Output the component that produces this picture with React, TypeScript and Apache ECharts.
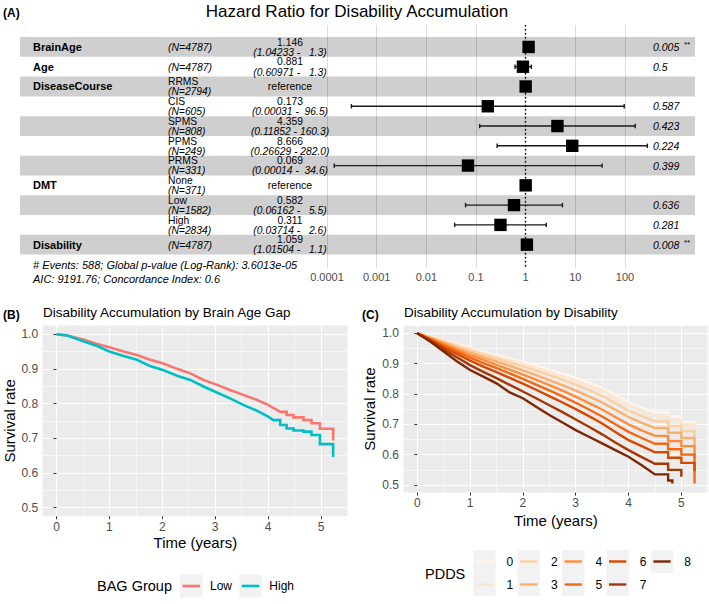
import { useEffect, useRef } from "react";
import * as echarts from "echarts";

const FONT = "'Liberation Sans', Arial, Helvetica, sans-serif";

// ---------- Panel A: forest plot data ----------
const forestVars = ["BrainAge", "Age", "DiseaseCourse", "", "", "", "", "DMT", "", "", "Disability"];
const forestLevels = ["", "", "RRMS", "CIS", "SPMS", "PPMS", "PRMS", "None", "Low", "High", ""];
const forestN = [4787, 4787, 2794, 605, 808, 249, 331, 371, 1582, 2834, 4787];
const forestHR: (number | null)[] = [1.146, 0.881, null, 0.173, 4.359, 8.666, 0.069, null, 0.582, 0.311, 1.059];
const forestLo: (number | null)[] = [1.04233, 0.60971, null, 0.00031, 0.11852, 0.26629, 0.00014, null, 0.06162, 0.03714, 1.01504];
const forestHi: (number | null)[] = [1.3, 1.3, null, 96.5, 160.3, 282.0, 34.6, null, 5.5, 2.6, 1.1];
const forestP = ["0.005", "0.5", "", "0.587", "0.423", "0.224", "0.399", "", "0.636", "0.281", "0.008"];
const forestStars = ["**", "", "", "", "", "", "", "", "", "", "**"];
const forestTicks = [0.0001, 0.001, 0.01, 0.1, 1, 10, 100];
const forestTickLabels = ["0.0001", "0.001", "0.01", "0.1", "1", "10", "100"];
const footnote1 = "# Events: 588; Global p-value (Log-Rank): 3.6013e-05";
const footnote2 = "AIC: 9191.76; Concordance Index: 0.6";

// ---------- Panel B: survival by brain age gap ----------
const bagGroups = ["Low", "High"];
const bagColors = ["#F8766D", "#00BFC4"];
const lowTimes = [0, 0.2, 0.52, 0.77, 1.0, 1.27, 1.52, 1.77, 2.01, 2.28, 2.53, 2.78, 3.0, 3.28, 3.53, 3.79, 4.0, 4.23, 4.35, 4.48, 4.67, 4.82, 4.98, 5.23];
const lowSurv = [1, 0.996, 0.984, 0.972, 0.962, 0.95, 0.94, 0.926, 0.916, 0.9, 0.887, 0.868, 0.856, 0.839, 0.825, 0.81, 0.796, 0.776, 0.767, 0.76, 0.752, 0.743, 0.727, 0.693];
const highTimes = [0, 0.2, 0.52, 0.77, 1.0, 1.27, 1.52, 1.77, 2.01, 2.28, 2.53, 2.78, 3.0, 3.28, 3.53, 3.79, 4.0, 4.1, 4.23, 4.35, 4.48, 4.67, 4.82, 4.98, 5.23];
const highSurv = [1, 0.996, 0.979, 0.966, 0.95, 0.937, 0.926, 0.908, 0.897, 0.88, 0.868, 0.849, 0.834, 0.815, 0.796, 0.779, 0.762, 0.752, 0.738, 0.728, 0.722, 0.719, 0.709, 0.683, 0.646];
const bagStepFrom = [4.2, 4.05];

// ---------- Panel C: survival by disability (PDDS) ----------
const pddsLevels = ["0", "1", "2", "3", "4", "5", "6", "7", "8"];
const pddsColors = ["#fff5eb", "#fee6ce", "#fdd0a2", "#fdae6b", "#fd8d3c", "#f16913", "#d94801", "#a63603", "#7f2704"];
const pddsTimes = [0, 0.25, 0.5, 0.75, 1, 1.25, 1.5, 1.75, 2, 2.25, 2.5, 2.75, 3, 3.25, 3.5, 3.75, 4, 4.25, 4.5, 4.75, 5];
const pdds0 = [1, 0.99, 0.978, 0.965, 0.952, 0.94, 0.928, 0.917, 0.906, 0.894, 0.881, 0.867, 0.853, 0.837, 0.82, 0.797, 0.773, 0.755, 0.74, 0.725, 0.708];
const pdds1 = [1, 0.989, 0.976, 0.962, 0.949, 0.936, 0.924, 0.912, 0.9, 0.887, 0.873, 0.859, 0.844, 0.828, 0.81, 0.787, 0.762, 0.745, 0.728, 0.712, 0.697];
const pdds2 = [1, 0.987, 0.973, 0.958, 0.944, 0.93, 0.917, 0.904, 0.891, 0.877, 0.862, 0.847, 0.831, 0.813, 0.794, 0.77, 0.745, 0.727, 0.71, 0.695, 0.678];
const pdds3 = [1, 0.985, 0.969, 0.952, 0.936, 0.921, 0.907, 0.893, 0.878, 0.862, 0.846, 0.829, 0.811, 0.792, 0.772, 0.748, 0.724, 0.705, 0.688, 0.672, 0.655];
const pdds4 = [1, 0.983, 0.964, 0.946, 0.928, 0.912, 0.896, 0.88, 0.864, 0.847, 0.829, 0.811, 0.791, 0.77, 0.749, 0.724, 0.7, 0.68, 0.662, 0.645, 0.628];
const pdds5 = [1, 0.981, 0.96, 0.94, 0.92, 0.902, 0.885, 0.868, 0.85, 0.831, 0.812, 0.792, 0.771, 0.749, 0.726, 0.7, 0.675, 0.655, 0.636, 0.618, 0.6];
const pdds6 = [1, 0.978, 0.954, 0.932, 0.91, 0.89, 0.872, 0.853, 0.834, 0.814, 0.793, 0.772, 0.75, 0.727, 0.703, 0.675, 0.648, 0.628, 0.608, 0.59, 0.573];
const pdds7 = [1, 0.975, 0.947, 0.921, 0.895, 0.873, 0.852, 0.83, 0.808, 0.786, 0.763, 0.74, 0.716, 0.692, 0.667, 0.64, 0.615, 0.592, 0.57, 0.55];
const pdds8 = [1, 0.972, 0.94, 0.908, 0.879, 0.857, 0.835, 0.805, 0.786, 0.758, 0.731, 0.706, 0.681, 0.659, 0.637, 0.615, 0.593, 0.565, 0.535, 0.515];
const pddsSurv = [pdds0, pdds1, pdds2, pdds3, pdds4, pdds5, pdds6, pdds7, pdds8];
const pddsEnd: [number, number][] = [[5.25, 0.69], [5.25, 0.678], [5.25, 0.66], [5.25, 0.62], [5.25, 0.59], [5.25, 0.505], [5.25, 0.545], [5.0, 0.527], [4.83, 0.505]];
const pddsStepFrom = 4.5;

const timeTicks = [0, 1, 2, 3, 4, 5];
const timeMinor = [0.5, 1.5, 2.5, 3.5, 4.5, 5.5];
const survTicks = [0.5, 0.6, 0.7, 0.8, 0.9, 1.0];
const survMinor = [0.55, 0.65, 0.75, 0.85, 0.95];

// ---------- layout constants ----------
const COL1 = 33, COL2 = 168, COL3 = 290, COLP = 653, COLS = 684;
const BAND_L = 20, BAND_R = 695;
const STACK_FONT = 10.3, STACK_UP = 4.8, STACK_DOWN = 5.3;

// Kaplan-Meier path: dense early part drawn as a polyline, sparse tail as explicit steps
function kmPath(times: number[], surv: number[], stepFrom: number) {
  const out: number[][] = [];
  for (let j = 0; j < times.length; j++) {
    if (j > 0 && times[j - 1] >= stepFrom) out.push([times[j], surv[j - 1]]);
    out.push([times[j], surv[j]]);
  }
  return out;
}

function txt(text: string, x: number, y: number, font: string, align = "left", fill = "#000") {
  return {
    type: "text",
    style: { text, x, y, font, fill, align, verticalAlign: "middle", textAlign: align, textVerticalAlign: "middle" },
  };
}

function gtext(text: string, x: number, y: number, font: string, align = "left", fill = "#000") {
  return {
    type: "text",
    x, y,
    style: { text, font, fill, align, verticalAlign: "middle", textAlign: align, textVerticalAlign: "middle" },
  };
}

function timeAxes(gridIndex: number, nameGap: number) {
  return [
    {
      type: "value", gridIndex, min: -0.2625, max: 5.5125, position: "bottom",
      axisLine: { show: false },
      axisTick: { show: true, length: 3, customValues: timeTicks, lineStyle: { color: "#333", width: 1 } },
      axisLabel: { customValues: timeTicks, color: "#4d4d4d", fontSize: 12, margin: 4.5, fontFamily: FONT },
      splitLine: { show: true, lineStyle: { color: "#ffffff", width: 1.1 } },
      name: "Time (years)", nameLocation: "middle", nameGap,
      nameTextStyle: { fontSize: 15, color: "#000", fontFamily: FONT },
    },
    {
      type: "value", gridIndex, min: -0.2625, max: 5.5125, position: "bottom",
      axisLine: { show: false },
      axisTick: { show: false, customValues: timeMinor },
      axisLabel: { show: false, customValues: timeMinor },
      splitLine: { show: true, lineStyle: { color: "#ffffff", width: 0.55 } },
    },
  ];
}

function survAxes(gridIndex: number) {
  return [
    {
      type: "value", gridIndex, min: 0.475, max: 1.025, position: "left",
      axisLine: { show: false },
      axisTick: { show: true, length: 3, customValues: survTicks, lineStyle: { color: "#333", width: 1 } },
      axisLabel: { customValues: survTicks, formatter: (v: number) => v.toFixed(1), color: "#4d4d4d", fontSize: 12, margin: 4.5, fontFamily: FONT },
      splitLine: { show: true, lineStyle: { color: "#ffffff", width: 1.1 } },
      name: "Survival rate", nameLocation: "middle", nameGap: 26,
      nameTextStyle: { fontSize: 15, color: "#000", fontFamily: FONT },
    },
    {
      type: "value", gridIndex, min: 0.475, max: 1.025, position: "left",
      axisLine: { show: false },
      axisTick: { show: false, customValues: survMinor },
      axisLabel: { show: false, customValues: survMinor },
      splitLine: { show: true, lineStyle: { color: "#ffffff", width: 0.55 } },
    },
  ];
}

function buildOption() {
  const rowIdx = forestVars.map((_, i) => i + 1);

  const bandsSeries = {
    type: "custom", name: "bands", xAxisIndex: 0, yAxisIndex: 0, z: 1, silent: true,
    data: rowIdx.filter((r) => r % 2 === 1).map((r) => [1, r]),
    encode: { x: 0, y: 1 },
    renderItem: (_p: any, api: any) => {
      const r = api.value(1);
      const top = api.coord([1, r - 0.5])[1];
      const bot = api.coord([1, r + 0.5])[1];
      return { type: "rect", shape: { x: BAND_L, y: top, width: BAND_R - BAND_L, height: bot - top }, style: { fill: "rgba(0,0,0,0.19)" } };
    },
    markLine: {
      silent: true, symbol: "none", label: { show: false },
      lineStyle: { color: "#000", width: 1.4, type: [1.4, 2.6] },
      data: [{ xAxis: 1 }],
    },
  };

  const marksSeries = {
    type: "custom", name: "hazard", xAxisIndex: 0, yAxisIndex: 0, z: 10, silent: true,
    data: rowIdx.map((r, i) => [forestHR[i] ?? 1, r]),
    encode: { x: 0, y: 1 },
    renderItem: (p: any, api: any) => {
      const i = p.dataIndex;
      const row = i + 1;
      const c = api.coord([forestHR[i] ?? 1, row]);
      const children: any[] = [];
      const lo = forestLo[i], hi = forestHi[i];
      if (lo != null && hi != null) {
        const a = api.coord([lo, row]);
        const b = api.coord([hi, row]);
        const st = { stroke: "#1a1a1a", lineWidth: 1.4 };
        children.push({ type: "line", shape: { x1: a[0], y1: c[1], x2: b[0], y2: c[1] }, style: st });
        children.push({ type: "line", shape: { x1: a[0], y1: c[1] - 2.2, x2: a[0], y2: c[1] + 2.2 }, style: st });
        children.push({ type: "line", shape: { x1: b[0], y1: c[1] - 2.2, x2: b[0], y2: c[1] + 2.2 }, style: st });
      }
      children.push({ type: "rect", shape: { x: c[0] - 6.2, y: c[1] - 6.2, width: 12.4, height: 12.4 }, style: { fill: "#000" } });
      return { type: "group", children };
    },
  };

  const tableSeries = {
    type: "custom", name: "table", xAxisIndex: 0, yAxisIndex: 0, z: 11, silent: true,
    data: rowIdx.map((r) => [1, r]),
    encode: { x: 0, y: 1 },
    renderItem: (p: any, api: any) => {
      const i = p.dataIndex;
      const y = api.coord([1, i + 1])[1];
      const ch: any[] = [];
      const F = (s: string) => `${s} ${FONT}`;
      if (forestVars[i]) ch.push(txt(forestVars[i], COL1, y, F("bold 11px")));
      const nTxt = `(N=${forestN[i]})`;
      if (forestLevels[i]) {
        ch.push(txt(forestLevels[i], COL2, y - STACK_UP, F(`${STACK_FONT}px`)));
        ch.push(txt(nTxt, COL2, y + STACK_DOWN, F(`italic ${STACK_FONT}px`)));
      } else {
        ch.push(txt(nTxt, COL2, y, F("italic 10.5px")));
      }
      const hr = forestHR[i], lo = forestLo[i], hi = forestHi[i];
      if (hr == null || lo == null || hi == null) {
        ch.push(txt("reference", COL3, y, F("10.5px"), "center"));
      } else {
        ch.push(txt(hr.toFixed(3), COL3, y - STACK_UP, F(`${STACK_FONT}px`), "center"));
        ch.push(txt(`(${lo.toFixed(5)} - ${hi.toFixed(1).padStart(5, "\u00a0")})`, COL3, y + STACK_DOWN, F(`italic ${STACK_FONT}px`), "center"));
      }
      if (forestP[i]) ch.push(txt(forestP[i], COLP, y, F("italic 10.5px")));
      if (forestStars[i]) ch.push(txt(forestStars[i], COLS, y - 2, F("8px")));
      return { type: "group", children: ch };
    },
  };

  const bagSeries = [
    { times: lowTimes, surv: lowSurv },
    { times: highTimes, surv: highSurv },
  ].map((g, k) => ({
    type: "line", name: bagGroups[k], xAxisIndex: 1, yAxisIndex: 1,
    showSymbol: false, symbol: "none", silent: true, z: 5,
    data: kmPath(g.times, g.surv, bagStepFrom[k]),
    lineStyle: { color: bagColors[k], width: 2.6, join: "miter" },
    itemStyle: { color: bagColors[k] },
  }));

  const pddsSeries = pddsSurv.map((vals, k) => {
    const times = pddsTimes.slice(0, vals.length).concat([pddsEnd[k][0]]);
    const surv = vals.concat([pddsEnd[k][1]]);
    return {
      type: "line", name: pddsLevels[k], xAxisIndex: 3, yAxisIndex: 3,
      showSymbol: false, symbol: "none", silent: true, z: 5,
      data: kmPath(times, surv, pddsStepFrom),
      lineStyle: { color: pddsColors[k], width: 2.4, join: "miter" },
      itemStyle: { color: pddsColors[k] },
    };
  });

  // ---------- graphics: titles, footnotes, legends ----------
  const graphics: any[] = [
    gtext("(A)", 3, 13, `bold 12px ${FONT}`),
    gtext("Hazard Ratio for Disability Accumulation", 357, 11, `17px ${FONT}`, "center"),
    gtext(footnote1, COL1, 265, `italic 11px ${FONT}`),
    gtext(footnote2, COL1, 278.5, `italic 11px ${FONT}`),
    gtext("(B)", 3, 315, `bold 12px ${FONT}`),
    gtext("Disability Accumulation by Brain Age Gap", 43, 312, `13.5px ${FONT}`),
    gtext("(C)", 362, 315, `bold 12px ${FONT}`),
    gtext("Disability Accumulation by Disability", 404, 312, `13.5px ${FONT}`),
    gtext("BAG Group", 97, 586, `14.5px ${FONT}`),
    gtext("PDDS", 425, 574, `14.5px ${FONT}`),
  ];
  bagGroups.forEach((g, k) => {
    const kx = 180 + k * 59.3;
    graphics.push({ type: "rect", shape: { x: kx, y: 574.5, width: 22.5, height: 23 }, style: { fill: "#f2f2f2" } });
    graphics.push({ type: "line", shape: { x1: kx + 2.5, y1: 586, x2: kx + 20, y2: 586 }, style: { stroke: bagColors[k], lineWidth: 2.6 } });
    graphics.push(gtext(g, kx + 30, 586, `12px ${FONT}`));
  });
  pddsLevels.forEach((lv, k) => {
    const col = Math.floor(k / 2), row = k % 2;
    const kx = 473.3 + col * 44.4;
    const ky = 550 + row * 23;
    graphics.push({ type: "rect", shape: { x: kx, y: ky, width: 22.3, height: 23 }, style: { fill: "#f2f2f2" } });
    graphics.push({ type: "line", shape: { x1: kx + 2.5, y1: ky + 11.5, x2: kx + 19.8, y2: ky + 11.5 }, style: { stroke: pddsColors[k], lineWidth: 2.4 } });
    graphics.push(gtext(lv, kx + 33.3, ky + 11.5, `12px ${FONT}`));
  });

  const [bx, bxm] = timeAxes(1, 18.5);
  const [cx, cxm] = timeAxes(2, 20);
  const [by, bym] = survAxes(1);
  const [cy, cym] = survAxes(2);

  return {
    animation: false,
    textStyle: { fontFamily: FONT },
    grid: [
      { left: 327, width: 298, top: 25, height: 243, show: false },
      { left: 42.6, width: 305.5, top: 325.5, height: 190.7, show: true, backgroundColor: "#ebebeb", borderWidth: 0, borderColor: "transparent" },
      { left: 403.4, width: 305, top: 325.7, height: 166.9, show: true, backgroundColor: "#ebebeb", borderWidth: 0, borderColor: "transparent" },
    ],
    xAxis: [
      {
        type: "log", logBase: 10, gridIndex: 0, min: forestTicks[0], max: forestTicks[forestTicks.length - 1],
        axisLine: { show: false }, axisTick: { show: false },
        axisLabel: {
          color: "#4d4d4d", fontSize: 11, margin: 3, fontFamily: FONT,
          formatter: (v: number) => {
            const k = forestTicks.findIndex((t) => Math.abs(Math.log10(t) - Math.log10(v)) < 1e-6);
            return k >= 0 ? forestTickLabels[k] : "";
          },
        },
        splitLine: { show: true, lineStyle: { color: "#dcdcdc", width: 1 } },
      },
      bx, bxm, cx, cxm,
    ],
    yAxis: [
      { type: "value", gridIndex: 0, min: -0.11, max: 12.18, inverse: true, show: false },
      by, bym, cy, cym,
    ],
    series: [bandsSeries, marksSeries, tableSeries, ...bagSeries, ...pddsSeries],
    graphic: { elements: graphics },
  };
}

export default function App() {
  const ref = useRef<HTMLDivElement>(null);
  useEffect(() => {
    const chart = echarts.init(ref.current!, null, { renderer: "svg" });
    chart.setOption(buildOption() as any);
    return () => chart.dispose();
  }, []);
  return <div ref={ref} style={{ position: "fixed", left: 0, top: 0, width: 709, height: 604, background: "#fff" }} />;
}
